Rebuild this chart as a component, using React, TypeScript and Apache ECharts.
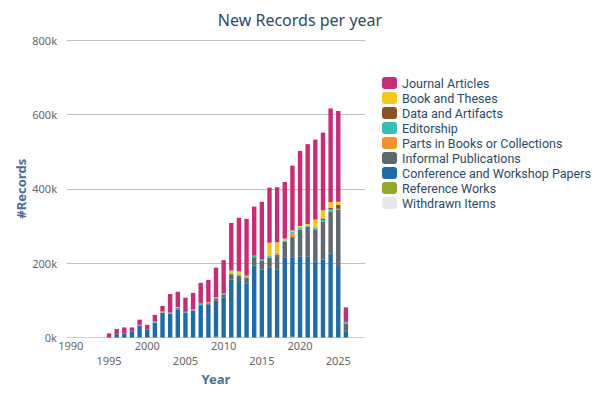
import React, { useEffect, useRef } from "react";
import * as echarts from "echarts";

const years: string[] = [];
for (let y = 1990; y <= 2028; y++) years.push(String(y));

// values in thousands, one per year 1990..2028
const journal = [0,0,0,0,0,11,14,16,11,14,13,18,15,50,41,38,44,54,60,80,89,128,144,152,132,154,148,148,152,174,202,215,215,209,252,244,39,0,0];
const books = [0,0,0,0,0,0,0,0,0,0,0,0,0,0,3,0,0,0,0,0,0,7,8,0,0,0,36,28,5,4,4,4,22,22,15,8,0,0,0];
const data = [0,0,0,0,0,0,0,0,0,0,0,0,0,0,0,0,0,0,0,0,0,0,0,0,0,0,0,0,0,0,0,0,0,4,5,11,0,0,0];
const editorship = [0,0,0,0,0,0,0,0,0,2,0,3,2,3,0,3,0,4,0,0,3,3,4,3,4,5,4,3,4,4,4,4,4,5,6,3,4,0,0];
const parts = [0,0,0,0,0,0,0,0,0,0,0,0,2,0,0,0,3,0,3,3,0,0,0,3,0,0,0,2,0,10,3,0,0,0,0,0,0,0,0];
const informal = [0,0,0,0,0,0,0,0,0,0,0,0,0,0,4,0,0,4,4,6,9,14,14,15,22,23,26,41,43,56,72,80,86,101,113,151,23,0,0];
const conference = [0,0,0,0,0,0,9,11,16,32,21,40,66,64,75,66,73,85,88,97,107,156,152,146,194,181,189,182,214,212,217,217,205,210,225,192,15,0,0];
const reference = [0,0,0,0,0,0,0,0,0,0,0,0,0,0,0,0,0,0,0,2,0,0,0,0,0,2,0,0,0,2,0,0,0,0,0,0,0,0,0];
const withdrawn = [0,0,0,0,0,0,0,0,0,0,0,0,0,0,0,0,0,0,0,0,0,0,0,0,0,0,0,0,0,0,0,0,0,0,0,0,0,0,0];

const legendOrder = [
  "Journal Articles",
  "Book and Theses",
  "Data and Artifacts",
  "Editorship",
  "Parts in Books or Collections",
  "Informal Publications",
  "Conference and Workshop Papers",
  "Reference Works",
  "Withdrawn Items",
];

const stackBottomUp: [string, number[], string][] = [
  ["Withdrawn Items", withdrawn, "#e8e8e8"],
  ["Reference Works", reference, "#93a82c"],
  ["Conference and Workshop Papers", conference, "#1f6ba5"],
  ["Informal Publications", informal, "#5e686d"],
  ["Parts in Books or Collections", parts, "#f0932c"],
  ["Editorship", editorship, "#33c1b5"],
  ["Data and Artifacts", data, "#8a5226"],
  ["Book and Theses", books, "#f5c71a"],
  ["Journal Articles", journal, "#c72c76"],
];

export default function App() {
  const ref = useRef<HTMLDivElement>(null);
  useEffect(() => {
    if (!ref.current) return;
    const chart = echarts.init(ref.current, null, { renderer: "svg" });
    const font = "Noto Sans";
    chart.setOption({
      animation: false,
      textStyle: { fontFamily: font },
      title: {
        text: "New Records per year",
        left: "center",
        top: 7,
        textStyle: { fontSize: 16, fontWeight: "normal", color: "#2b4a6b", fontFamily: font },
      },
      legend: {
        orient: "vertical",
        left: 377,
        top: 71,
        itemWidth: 15,
        itemHeight: 12,
        itemGap: 1,
        icon: "roundRect",
        data: legendOrder,
        textStyle: { fontSize: 12.5, lineHeight: 14, color: "#2b4a6b", fontFamily: "Roboto" },
      },
      grid: { left: 67, right: 235, top: 40, bottom: 62.5, containLabel: false },
      xAxis: {
        type: "category",
        data: years,
        name: "Year",
        nameLocation: "middle",
        nameGap: 24,
        nameTextStyle: { fontSize: 13, fontWeight: "bold", color: "#4b6f9b", fontFamily: font },
        axisLine: { lineStyle: { color: "#c5d0dc" } },
        axisTick: { lineStyle: { color: "#c5d0dc" }, interval: 0, length: 5 },
        axisLabel: {
          interval: 4,
          color: "#666",
          fontSize: 11,
          lineHeight: 15,
          margin: 0,
          formatter: (v: string, i: number) => (i % 10 === 5 ? "\n" + v : v),
        },
      },
      yAxis: {
        type: "value",
        min: 0,
        max: 800000,
        interval: 200000,
        name: "#Records",
        nameLocation: "middle",
        nameGap: 40,
        nameTextStyle: { fontSize: 13, fontWeight: "bold", color: "#4b6f9b", fontFamily: font },
        axisLabel: {
          color: "#666",
          fontSize: 11,
          margin: 10,
          formatter: (v: number) => v / 1000 + "k",
        },
        splitLine: { lineStyle: { color: "#c0c0c0" } },
      },
      series: stackBottomUp.map(([name, vals, color]) => ({
        name,
        type: "bar",
        stack: "all",
        barWidth: 4.4,
        itemStyle: { color },
        data: vals.map((v) => v * 1000),
      })),
    });
    return () => chart.dispose();
  }, []);
  return <div ref={ref} style={{ width: 600, height: 400, marginLeft: -8, marginTop: -8 }} />;
}
